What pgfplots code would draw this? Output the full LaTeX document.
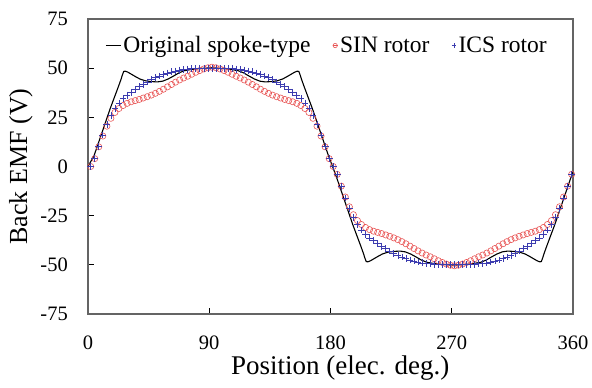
\documentclass[border=0pt]{standalone}
\usepackage{fontspec}
\setmainfont{Liberation Serif}
\usepackage{pgfplots}
\pgfplotsset{compat=1.18}
\usepackage{pgfplotstable}
\definecolor{sinred}{RGB}{232,85,85}
\definecolor{icsblue}{RGB}{60,60,175}
\definecolor{axgray}{RGB}{100,100,100}

\pgfplotstableread{
x y
0 0
4.5 5.5
7.5 11.5
10.5 17.5
13.5 23.5
16.5 29.5
19.5 35
22.5 40.5
24.5 44.3
25.5 46.5
26.5 48.3
27.5 48.5
29.5 48
32.5 46.8
35.5 45.6
38.5 44.5
42.5 43.6
46.5 43.2
51.5 43
55.5 43.4
59.5 44.5
63.5 46
67.5 47.6
71.5 48.7
76.5 49.3
81.5 49.7
86.5 50
91.5 50.2
96.5 50
101.5 49.7
106.5 49.3
111.5 48.7
115.5 47.6
119.5 46
123.5 44.5
127.5 43.4
131.5 43
136.5 43.2
140.5 43.6
144.5 44.5
147.5 45.6
150.5 46.8
153.5 48
155.5 48.5
156.5 48.3
157.5 46.5
158.5 44.3
160.5 40.5
163.5 35
166.5 29.5
169.5 23.5
172.5 17.5
175.5 11.5
178.5 5.5
181.5 0
184.5 -5.5
187.5 -11.5
190.5 -17.5
193.5 -23.5
196.5 -29.5
199.5 -35
202.5 -40.5
204.5 -44.3
205.5 -46.5
206.5 -48.3
207.5 -48.5
209.5 -48
212.5 -46.8
215.5 -45.6
218.5 -44.5
222.5 -43.6
226.5 -43.2
231.5 -43
235.5 -43.4
239.5 -44.5
243.5 -46
247.5 -47.6
251.5 -48.7
256.5 -49.3
261.5 -49.7
266.5 -50
271.5 -50.2
276.5 -50
281.5 -49.7
286.5 -49.3
291.5 -48.7
295.5 -47.6
299.5 -46
303.5 -44.5
307.5 -43.4
311.5 -43
316.5 -43.2
320.5 -43.6
324.5 -44.5
327.5 -45.6
330.5 -46.8
333.5 -48
335.5 -48.5
336.5 -48.3
337.5 -46.5
338.5 -44.3
340.5 -40.5
343.5 -35
346.5 -29.5
349.5 -23.5
352.5 -17.5
355.5 -11.5
358.5 -5.5
360 -2.75
}\orig

\pgfplotstableread{
x sin ics
2 0 0
5 4 4
8 10 10
11 15.5 16
14 20.5 21.5
17 24.5 26
20 27.5 29.5
23 29.5 32.3
26 31 34.5
29 32.1 36.3
32 32.9 37.8
35 33.5 39.2
38 34.1 40.5
41 34.8 41.8
44 35.5 43
47 36.3 44.1
50 37.2 45.1
53 38.2 46
56 39.3 46.8
59 40.5 47.5
62 41.7 48.1
65 42.9 48.6
68 44 49
71 45 49.3
74 45.9 49.5
77 46.9 49.7
80 47.9 49.8
83 48.8 49.9
86 49.6 50
89 50.2 50
92 50.5 50
95 50.2 50
98 49.6 50
101 48.8 49.9
104 47.9 49.8
107 46.9 49.7
110 45.9 49.5
113 45 49.3
116 44 49
119 42.9 48.6
122 41.7 48.1
125 40.5 47.5
128 39.3 46.8
131 38.2 46
134 37.2 45.1
137 36.3 44.1
140 35.5 43
143 34.8 41.8
146 34.1 40.5
149 33.5 39.2
152 32.9 37.8
155 32.1 36.3
158 31 34.5
161 29.5 32.3
164 27.5 29.5
167 24.5 26
170 20.5 21.5
173 15.5 16
176 10 10
179 4 4
182 0 0
185 -4 -4
188 -10 -10
191 -15.5 -16
194 -20.5 -21.5
197 -24.5 -26
200 -27.5 -29.5
203 -29.5 -32.3
206 -31 -34.5
209 -32.1 -36.3
212 -32.9 -37.8
215 -33.5 -39.2
218 -34.1 -40.5
221 -34.8 -41.8
224 -35.5 -43
227 -36.3 -44.1
230 -37.2 -45.1
233 -38.2 -46
236 -39.3 -46.8
239 -40.5 -47.5
242 -41.7 -48.1
245 -42.9 -48.6
248 -44 -49
251 -45 -49.3
254 -45.9 -49.5
257 -46.9 -49.7
260 -47.9 -49.8
263 -48.8 -49.9
266 -49.6 -50
269 -50.2 -50
272 -50.5 -50
275 -50.2 -50
278 -49.6 -50
281 -48.8 -49.9
284 -47.9 -49.8
287 -46.9 -49.7
290 -45.9 -49.5
293 -45 -49.3
296 -44 -49
299 -42.9 -48.6
302 -41.7 -48.1
305 -40.5 -47.5
308 -39.3 -46.8
311 -38.2 -46
314 -37.2 -45.1
317 -36.3 -44.1
320 -35.5 -43
323 -34.8 -41.8
326 -34.1 -40.5
329 -33.5 -39.2
332 -32.9 -37.8
335 -32.1 -36.3
338 -31 -34.5
341 -29.5 -32.3
344 -27.5 -29.5
347 -24.5 -26
350 -20.5 -21.5
353 -15.5 -16
356 -10 -10
359 -4 -4
}\marks

\begin{document}
\begin{tikzpicture}
\path[use as bounding box] (-88pt,-74pt) rectangle (504pt,314pt);
\begin{axis}[
  at={(0pt,0pt)}, anchor=south west,
  scale only axis, width=485pt, height=295pt,
  xmin=0, xmax=360, ymin=-75, ymax=75,
  xtick={0,90,180,270,360},
  xticklabels={0,90,180,270,360},
  ytick={-75,-50,-25,0,25,50,75},
  yticklabels={-75,-50,-25,0,25,50,75},
  tick pos=left, tick align=inside,
  major tick length=6pt,
  axis line style={axgray, line width=1.3pt},
  every tick/.style={black, line width=1pt},
  tick label style={font=\fontsize{20.5}{24}\selectfont},
  xticklabel style={anchor=north, inner sep=0pt, yshift=-22pt},
  yticklabel style={anchor=east, inner sep=0pt, xshift=-20pt},
  xlabel={Position (elec. deg.)},
  ylabel={Back EMF (V)},
  xlabel style={at={(axis description cs:0.52,-0.205)}, anchor=base, inner sep=0pt, font=\fontsize{27}{32}\selectfont},
  ylabel style={at={(axis description cs:-0.163,0.5)}, anchor=north, inner sep=0pt, font=\fontsize{26}{30}\selectfont},
  legend columns=3,
  legend cell align=left,
  legend style={draw=none, fill=none, at={(axis description cs:0.035,0.91)}, anchor=west,
    font=\fontsize{23.5}{27}\selectfont, inner sep=0pt,
    /tikz/every odd column/.append style={column sep=0pt},
    /tikz/every even column/.append style={column sep=20pt},
    nodes={inner sep=2pt}},
]
\addplot[black, line width=1.1pt, no markers,
  legend image code/.code={\draw[black, line width=1.2pt] (0pt,0pt) -- (15pt,0pt);}]
  table[x=x, y=y] {\orig};
\addlegendentry{Original spoke-type}
\addplot[only marks, mark=o, mark size=3.1pt, sinred, mark options={line width=0.6pt},
  legend image code/.code={\draw[sinred, line width=0.6pt] (2.2pt,0pt) circle (2.2pt); \path (0pt,0pt) -- (5pt,0pt);}]
  table[x=x, y=sin] {\marks};
\addlegendentry{SIN rotor}
\addplot[only marks, mark=+, mark size=3.4pt, icsblue, mark options={line width=0.7pt},
  legend image code/.code={\draw[icsblue, line width=0.6pt] (0pt,0pt) -- (4.4pt,0pt) (2.2pt,-2.2pt) -- (2.2pt,2.2pt);}]
  table[x=x, y=ics] {\marks};
\addlegendentry{ICS rotor}
\end{axis}
\end{tikzpicture}
\end{document}
